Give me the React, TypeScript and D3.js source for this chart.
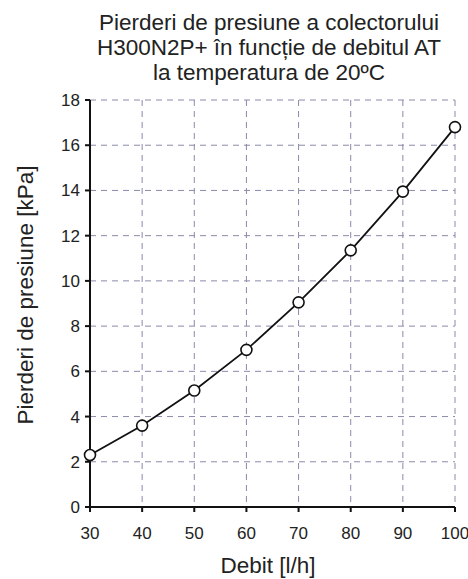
import React from "react";
import * as d3 from "d3";

const flows = [30, 40, 50, 60, 70, 80, 90, 100];
const losses = [2.3, 3.6, 5.15, 6.95, 9.05, 11.35, 13.95, 16.8];
const xTicks = [30, 40, 50, 60, 70, 80, 90, 100];
const yTicks = [0, 2, 4, 6, 8, 10, 12, 14, 16, 18];
const titleLines = [
  "Pierderi de presiune a colectorului",
  "H300N2P+ în funcție de debitul AT",
  "la temperatura de 20ºC",
];

export default function App() {
  const W = 468, H = 579;
  const x = d3.scaleLinear().domain([30, 100]).range([90, 455]);
  const y = d3.scaleLinear().domain([0, 18]).range([507, 100]);
  const line = d3.line<number>().x((_, i) => x(flows[i])).y((d) => y(d));
  const font = "Liberation Sans, Arial, sans-serif";
  const grid = "#8a8aaa";
  return (
    <svg width={W} height={H} style={{ position: "absolute", left: 0, top: 0, background: "#fff" }} fontFamily={font}>
      {titleLines.map((t, i) => (
        <text key={i} x={269} y={30 + i * 25} textAnchor="middle" fontSize={22.5} fill="#222">{t}</text>
      ))}
      {xTicks.slice(1).map((t) => (
        <line key={"gx" + t} x1={x(t)} x2={x(t)} y1={y(18)} y2={y(0)} stroke={grid} strokeWidth={1} strokeDasharray="6,5" />
      ))}
      {yTicks.slice(1).map((t) => (
        <line key={"gy" + t} x1={x(30)} x2={x(100)} y1={y(t)} y2={y(t)} stroke={grid} strokeWidth={1} strokeDasharray="6,5" />
      ))}
      <line x1={x(30)} x2={x(30)} y1={y(18)} y2={y(0)} stroke="#111" strokeWidth={2} />
      <line x1={x(30)} x2={x(100)} y1={y(0)} y2={y(0)} stroke="#111" strokeWidth={2} />
      {yTicks.map((t) => (
        <g key={"ty" + t}>
          <line x1={x(30) - 5} x2={x(30)} y1={y(t)} y2={y(t)} stroke="#111" strokeWidth={2} />
          <text x={x(30) - 10} y={y(t) + 6} textAnchor="end" fontSize={17} fill="#222">{t}</text>
        </g>
      ))}
      {xTicks.map((t) => (
        <g key={"tx" + t}>
          <line x1={x(t)} x2={x(t)} y1={y(0)} y2={y(0) + 5} stroke="#111" strokeWidth={2} />
          <text x={x(t)} y={y(0) + 32} textAnchor="middle" fontSize={17} fill="#222">{t}</text>
        </g>
      ))}
      <path d={line(losses) || ""} fill="none" stroke="#111" strokeWidth={1.8} />
      {losses.map((v, i) => (
        <circle key={"c" + i} cx={x(flows[i])} cy={y(v)} r={5.5} fill="#fff" stroke="#111" strokeWidth={1.6} />
      ))}
      <text x={268} y={573} textAnchor="middle" fontSize={22.5} fill="#222">Debit [l/h]</text>
      <text transform={`translate(33,295) rotate(-90)`} textAnchor="middle" fontSize={22.5} fill="#222">Pierderi de presiune [kPa]</text>
    </svg>
  );
}
